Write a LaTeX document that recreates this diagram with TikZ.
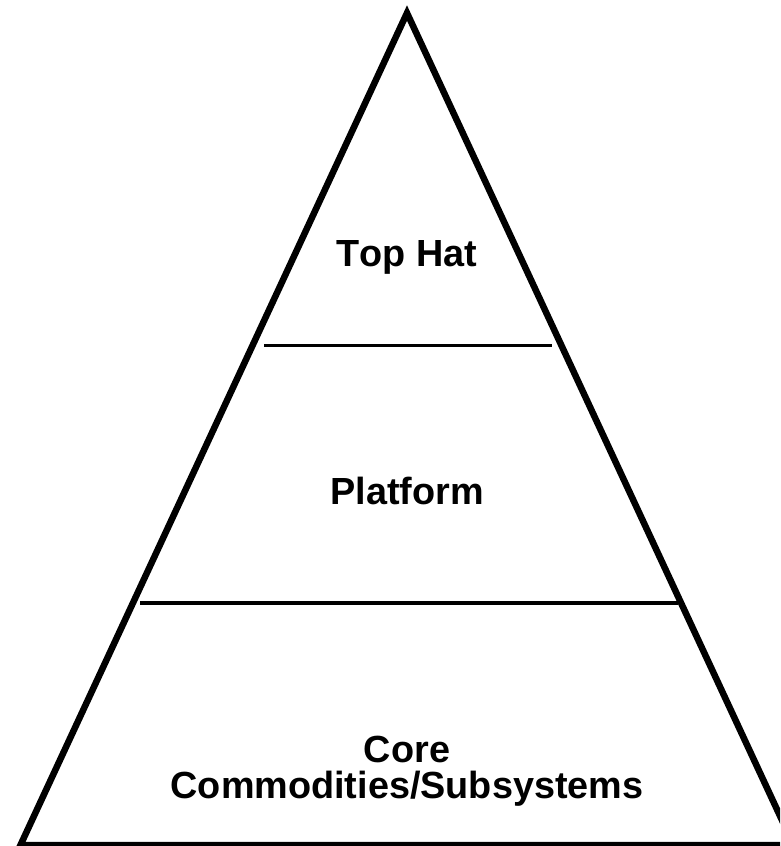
\documentclass[tikz,border=0pt]{standalone}
\usepackage{fontspec}
\setmainfont[Kerning=Off]{Liberation Sans}
\usepackage{tikz}
\tikzset{
	edge/.style={line width=6.5pt,line join=miter},
	tier/.style={line width=3.5pt},
	labl/.style={font=\bfseries\fontsize{37.8}{36}\selectfont,inner sep=0pt,anchor=base,align=center},
	}

\begin{document}
\begin{tikzpicture}[x=1pt,y=-1pt]
 \useasboundingbox (0,0) rectangle (780,846);
 \clip (0,0) rectangle (780,846);

\coordinate (apex) at (407,13);
\coordinate (bl) at (20.5,845);
\coordinate (br) at (793.5,845);
 \draw[edge] (apex) -- (bl) -- (br) -- cycle;

\coordinate (t1) at (264,345.7);
\coordinate (t2) at (552,345.7);
\coordinate (p1) at (140,603);
\coordinate (p2) at (678,603);
 \draw[tier] (t1) -- (t2);
 \draw[tier] (p1) -- (p2);

\node[labl] (tophat) at (407,266) {Top Hat};
\node[labl] (platform) at (407,504) {Platform};
\node[labl] (core) at (407,798) {Core\\Commodities/Subsystems};
\end{tikzpicture}
\end{document}
